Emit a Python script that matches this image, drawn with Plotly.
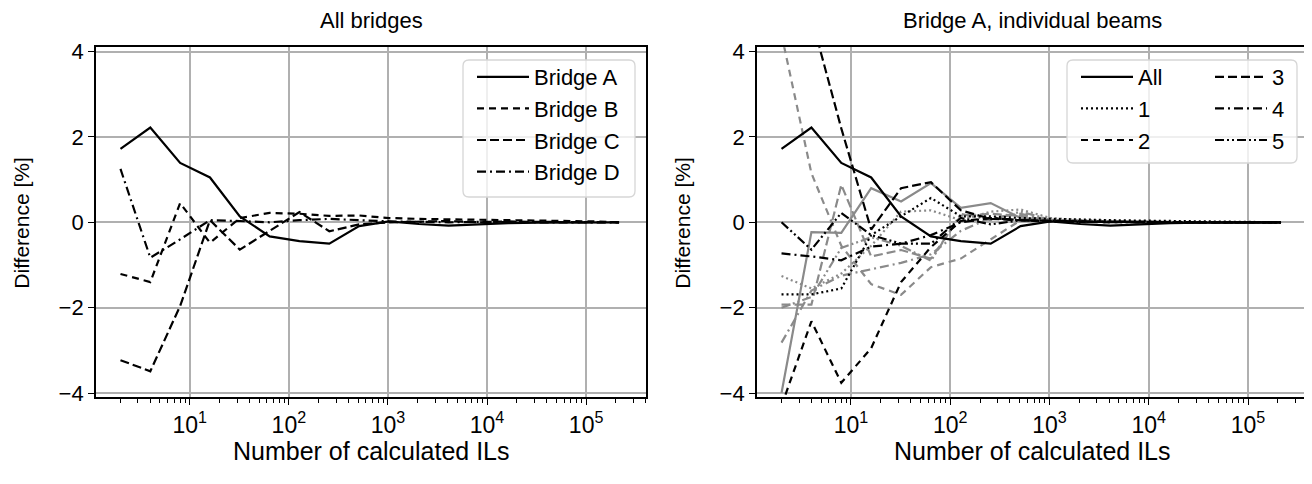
import plotly.graph_objects as go

# ---------------- data ----------------
n_ils = [2, 4, 8, 16, 32, 64, 128, 256, 512, 1024, 2048, 4096, 8192,
         16384, 32768, 65536, 131072, 215000]

bridge_a = [1.72, 2.22, 1.39, 1.05, 0.14, -0.33, -0.44, -0.50, -0.09, 0.02,
            -0.04, -0.08, -0.05, -0.02, -0.01, 0.0, 0.0, 0.0]
bridge_b = [-1.21, -1.40, 0.45, -0.48, 0.10, 0.22, 0.20, 0.15, 0.16, 0.10,
            0.08, 0.07, 0.07, 0.05, 0.04, 0.03, 0.02, 0.0]
bridge_c = [-3.23, -3.49, -1.96, 0.05, -0.64, -0.21, 0.24, -0.21, -0.05, 0.0,
            0.02, 0.03, 0.0, 0.02, 0.01, 0.01, 0.0, 0.0]
bridge_d = [1.25, -0.83, -0.40, 0.05, 0.03, 0.0, 0.05, 0.08, 0.05, 0.02,
            0.01, 0.0, 0.01, 0.0, 0.0, 0.0, 0.0, 0.0]

# Bridge A, individual beams (black set)
beam_all = bridge_a
beam_1 = [-1.69, -1.69, -1.55, -0.30, 0.14, 0.57, 0.14, 0.14, 0.10, 0.08,
          0.06, 0.05, 0.04, 0.03, 0.02, 0.01, 0.01, 0.0]
beam_2 = [-4.30, -2.32, -3.76, -2.95, -1.40, -0.58, 0.03, 0.10, 0.05, 0.02,
          0.01, 0.0, 0.01, 0.0, 0.0, 0.0, 0.0, 0.0]
beam_3 = [5.50, 4.80, 2.20, -0.17, 0.80, 0.94, 0.28, 0.08, 0.05, 0.03,
          0.02, 0.01, 0.0, 0.0, 0.0, 0.0, 0.0, 0.0]
beam_4 = [-0.73, -0.80, -0.89, -0.57, -0.50, -0.30, 0.00, 0.10, 0.05, 0.03,
          0.02, 0.01, 0.0, 0.0, 0.0, 0.0, 0.0, 0.0]
beam_5 = [0.00, -0.64, 0.22, -0.30, -0.50, -0.50, 0.10, -0.05, 0.05, 0.02,
          0.01, 0.0, 0.0, 0.0, 0.0, 0.0, 0.0, 0.0]
# grey set
grey_all = [-4.00, -0.23, -0.25, 0.80, 0.49, 0.92, 0.34, 0.45, 0.10, 0.05,
            0.03, 0.02, 0.01, 0.0, 0.0, 0.0, 0.0, 0.0]
grey_1 = [-1.26, -1.55, -1.20, -0.55, 0.25, 0.28, 0.05, 0.25, 0.30, 0.10,
          0.05, 0.03, 0.02, 0.01, 0.0, 0.0, 0.0, 0.0]
grey_2 = [4.40, 1.15, -0.55, -1.45, -1.70, -1.05, -0.85, -0.40, 0.05, 0.04,
          0.03, 0.02, 0.01, 0.0, 0.0, 0.0, 0.0, 0.0]
grey_3 = [-1.93, -1.93, 0.88, -0.80, -0.65, -0.85, 0.15, 0.20, 0.15, 0.05,
          0.03, 0.02, 0.01, 0.0, 0.0, 0.0, 0.0, 0.0]
grey_4 = [-2.82, -1.60, -1.25, -1.10, -0.95, -0.75, -0.20, 0.10, 0.20, 0.05,
          0.03, 0.02, 0.01, 0.0, 0.0, 0.0, 0.0, 0.0]
grey_5 = [-2.00, -1.75, -0.60, -0.35, -0.55, -0.90, 0.20, 0.05, 0.25, 0.06,
          0.04, 0.02, 0.01, 0.0, 0.0, 0.0, 0.0, 0.0]

x_tick_vals = [10, 100, 1000, 10000, 100000]
x_tick_text = ["10<sup>1</sup>", "10<sup>2</sup>", "10<sup>3</sup>",
               "10<sup>4</sup>", "10<sup>5</sup>"]
y_tick_vals = [-4, -2, 0, 2, 4]

# ---------------- style ----------------
W, H = 1312, 484
OFF = 8  # page body offset
FONT = "Liberation Sans, Arial, sans-serif"
BLACK = "#000000"
GREY = "#8a8a8a"
LW = 2.2

DASH = {
    "solid": "solid",
    "dotted": "2px,3px",
    "dashB": "7px,5px",
    "dashC": "9px,4px",
    "dashdot": "9px,4px,2px,4px",
    "dashdotdot": "9px,3px,2px,3px,2px,3px",
}

fig = go.Figure()

def add(x, y, name, dash, color, xa, ya, legend=None, show=True):
    fig.add_trace(go.Scatter(
        x=x, y=y, mode="lines", name=name,
        line=dict(color=color, width=LW, dash=dash),
        xaxis=xa, yaxis=ya, showlegend=show,
        legend=legend, legendgroup=name + (legend or ""),
    ))

# left panel
add(n_ils, bridge_a, "Bridge A", DASH["solid"], BLACK, "x", "y", "legend")
add(n_ils, bridge_b, "Bridge B", DASH["dashB"], BLACK, "x", "y", "legend")
add(n_ils, bridge_c, "Bridge C", DASH["dashC"], BLACK, "x", "y", "legend")
add(n_ils, bridge_d, "Bridge D", DASH["dashdot"], BLACK, "x", "y", "legend")

# right panel - grey set first (below)
add(n_ils, grey_all, "All g", DASH["solid"], GREY, "x2", "y2", show=False)
add(n_ils, grey_1, "1 g", DASH["dotted"], GREY, "x2", "y2", show=False)
add(n_ils, grey_2, "2 g", DASH["dashB"], GREY, "x2", "y2", show=False)
add(n_ils, grey_3, "3 g", DASH["dashC"], GREY, "x2", "y2", show=False)
add(n_ils, grey_4, "4 g", DASH["dashdot"], GREY, "x2", "y2", show=False)
add(n_ils, grey_5, "5 g", DASH["dashdotdot"], GREY, "x2", "y2", show=False)
# black set
add(n_ils, beam_all, "All", DASH["solid"], BLACK, "x2", "y2", "legend2")
add(n_ils, beam_1, "1", DASH["dotted"], BLACK, "x2", "y2", "legend2")
add(n_ils, beam_2, "2", DASH["dashB"], BLACK, "x2", "y2", "legend2")
add(n_ils, beam_3, "3", DASH["dashC"], BLACK, "x2", "y2", "legend3")
add(n_ils, beam_4, "4", DASH["dashdot"], BLACK, "x2", "y2", "legend3")
add(n_ils, beam_5, "5", DASH["dashdotdot"], BLACK, "x2", "y2", "legend3")

def PX(p):
    return (p - OFF) / W

def PY(p):
    return 1 - (p - OFF) / H

xa_common = dict(
    type="log", range=[0.054, 5.604], automargin=False,
    tickmode="array", tickvals=x_tick_vals, ticktext=x_tick_text,
    ticks="outside", ticklen=6, tickwidth=1.4, tickcolor=BLACK,
    showgrid=True, gridcolor="#b0b0b0", gridwidth=1.6,
    showline=True, linecolor=BLACK, linewidth=1.9, mirror=True,
    zeroline=False,
    tickfont=dict(family=FONT, size=23, color=BLACK),
    minor=dict(ticks="outside", ticklen=3.5, tickwidth=1.1, tickcolor=BLACK,
               dtick="D1", showgrid=False),
)
ya_common = dict(
    range=[-4.1, 4.1], tickmode="array", tickvals=y_tick_vals, automargin=False,
    ticks="outside", ticklen=6, tickwidth=1.4, tickcolor=BLACK,
    showgrid=True, gridcolor="#b0b0b0", gridwidth=1.6,
    showline=True, linecolor=BLACK, linewidth=1.9, mirror=True,
    zeroline=False,
    tickfont=dict(family=FONT, size=22, color=BLACK),
)

LEG_FS = 22
leg_common = dict(xanchor="left", yanchor="top", bgcolor="rgba(0,0,0,0)",
                  borderwidth=0, font=dict(family=FONT, size=LEG_FS, color=BLACK),
                  itemwidth=52, tracegroupgap=0, traceorder="grouped")

plot_top, plot_bot = 47.3, 397.3
fig.update_layout(
    width=W, height=H, autosize=False,
    margin=dict(l=0, r=0, t=0, b=0, pad=0),
    paper_bgcolor="white", plot_bgcolor="white",
    font=dict(family=FONT, size=22, color=BLACK),
    xaxis=dict(domain=[PX(96), PX(646)], anchor="y", **xa_common),
    yaxis=dict(domain=[PY(plot_bot), PY(plot_top)], anchor="x", **ya_common),
    xaxis2=dict(domain=[PX(757), PX(1308)], anchor="y2", **xa_common),
    yaxis2=dict(domain=[PY(plot_bot), PY(plot_top)], anchor="x2", **ya_common),
    legend=dict(x=PX(472), y=PY(56), **leg_common),
    legend2=dict(x=PX(1076), y=PY(56), **leg_common),
    legend3=dict(x=PX(1210), y=PY(56), **leg_common),
)

def rounded_box(x0, y0, x1, y1, r=6):
    rx, ry = r / W, r / H
    X0, X1 = PX(x0), PX(x1)
    Y0, Y1 = PY(y0), PY(y1)  # Y0 top (larger), Y1 bottom
    return (f"M{X0+rx},{Y0} L{X1-rx},{Y0} Q{X1},{Y0} {X1},{Y0-ry} "
            f"L{X1},{Y1+ry} Q{X1},{Y1} {X1-rx},{Y1} L{X0+rx},{Y1} "
            f"Q{X0},{Y1} {X0},{Y1+ry} L{X0},{Y0-ry} Q{X0},{Y0} {X0+rx},{Y0} Z")

for box in [(463, 60, 635, 197), (1067, 60, 1297, 163)]:
    fig.add_shape(type="path", path=rounded_box(*box), xref="paper", yref="paper",
                  fillcolor="rgba(255,255,255,0.8)",
                  line=dict(color="#d6d6d6", width=1.3), layer="above")

# titles and axis labels
ann = [
    dict(text="All bridges", x=PX(371), y=PY(21), size=22),
    dict(text="Bridge A, individual beams", x=PX(1032), y=PY(21), size=22),
    dict(text="Number of calculated ILs", x=PX(371), y=PY(451), size=25),
    dict(text="Number of calculated ILs", x=PX(1032), y=PY(451), size=25),
    dict(text="Difference [%]", x=PX(22), y=PY(222.7), size=21, textangle=-90),
    dict(text="Difference [%]", x=PX(683), y=PY(222.7), size=21, textangle=-90),
]
for a in ann:
    size = a.pop("size")
    fig.add_annotation(xref="paper", yref="paper", showarrow=False,
                       xanchor="center", yanchor="middle", borderpad=0,
                       font=dict(family=FONT, size=size, color=BLACK), **a)

fig.write_html("out.html")
